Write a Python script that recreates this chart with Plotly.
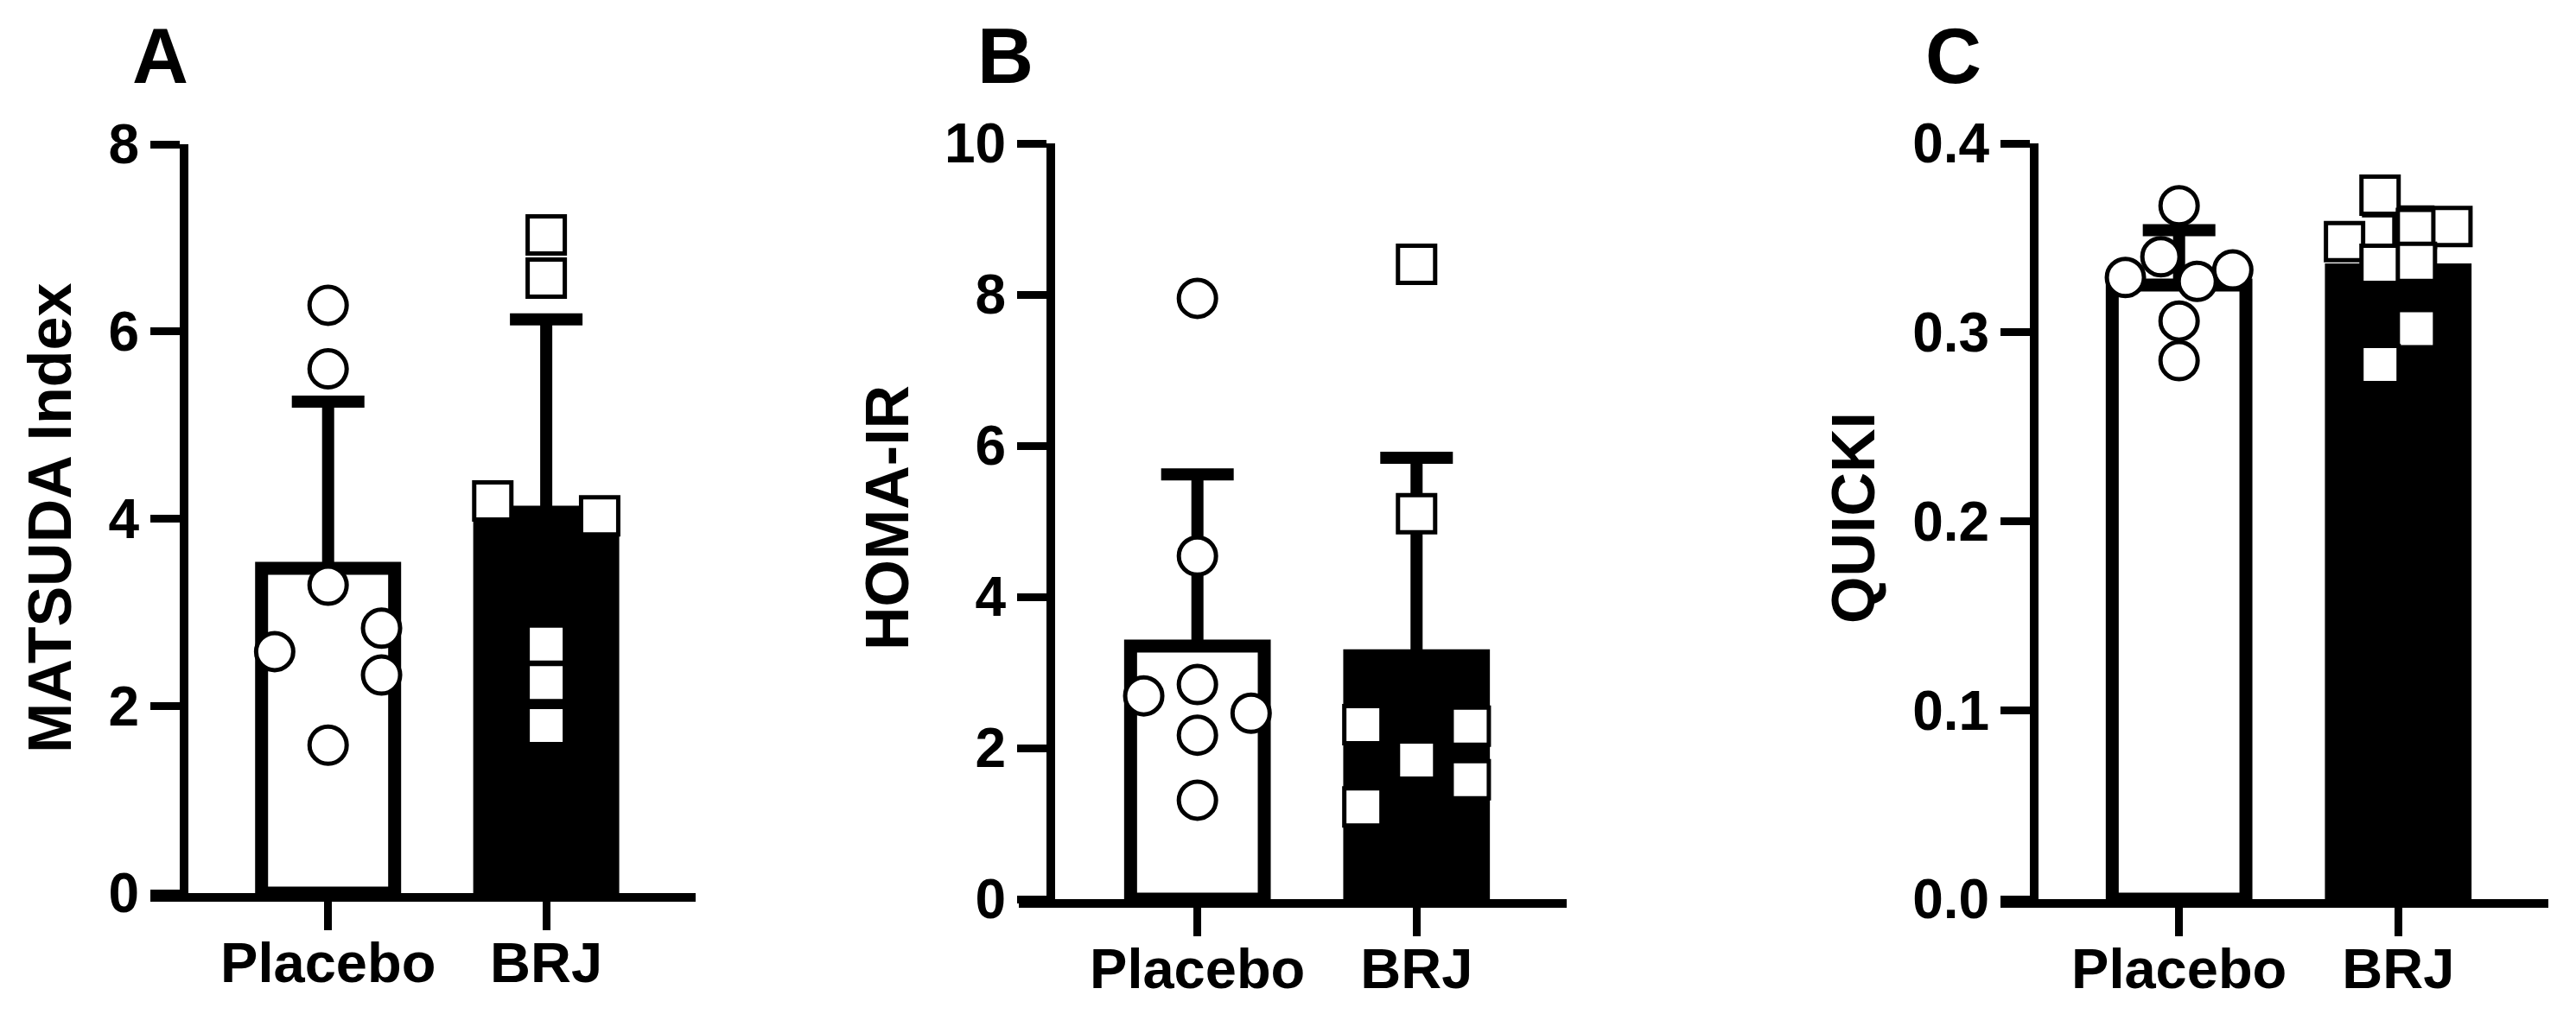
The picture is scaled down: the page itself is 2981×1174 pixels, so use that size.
import plotly.graph_objects as go

W, H = 2981, 1174

groups = ["Placebo", "BRJ"]

# Panel A: MATSUDA Index
a_means = [3.47, 4.07]
a_sd = [1.78, 2.06]
a_placebo = [6.28, 5.60, 3.29, 2.58, 2.83, 2.33, 1.58]
a_brj = [7.03, 6.57, 4.19, 4.03, 2.66, 2.25, 1.79]
a_ticks = [0, 2, 4, 6, 8]

# Panel B: HOMA-IR
b_means = [3.35, 3.22]
b_sd = [2.27, 2.62]
b_placebo = [7.95, 4.54, 2.84, 2.69, 2.46, 2.17, 1.31]
b_brj = [8.40, 5.10, 2.31, 2.29, 1.84, 1.58, 1.22]
b_ticks = [0, 2, 4, 6, 8, 10]

# Panel C: QUICKI
c_means = [0.325, 0.333]
c_sd = [0.029, 0.031]
c_placebo = [0.367, 0.340, 0.329, 0.327, 0.333, 0.306, 0.285]
c_brj = [0.3726, 0.348, 0.355, 0.356, 0.336, 0.337, 0.302, 0.283]
c_ticks = [0.0, 0.1, 0.2, 0.3, 0.4]

# horizontal scatter offsets (layout only)
a_jit_p = [0, 0, 0, -0.245, 0.245, 0.245, 0]
a_jit_b = [0, 0, -0.245, 0.245, 0, 0, 0]
b_jit_p = [0, 0, 0, -0.245, 0.245, 0, 0]
b_jit_b = [0, 0, -0.245, 0.245, 0, 0.245, -0.245]
c_jit_p = [0, -0.083, -0.245, 0.083, 0.245, 0, 0]
c_jit_b = [-0.083, -0.245, 0.083, 0.245, -0.083, 0.083, 0.083, -0.083]

FONT = "Arial, Liberation Sans, sans-serif"

panels = [
    dict(letter="A", title="MATSUDA Index", means=a_means, sd=a_sd, p=a_placebo, b=a_brj,
         jp=a_jit_p, jb=a_jit_b, ticks=a_ticks, fmt=None, rng=[0, 8],
         xdom=(174, 805), yaxis_x=213, y0=1034, ytop=167, title_x=58, letter_x=185),
    dict(letter="B", title="HOMA-IR", means=b_means, sd=b_sd, p=b_placebo, b=b_brj,
         jp=b_jit_p, jb=b_jit_b, ticks=b_ticks, fmt=None, rng=[0, 10],
         xdom=(1179, 1813), yaxis_x=1216, y0=1041, ytop=166, title_x=1027, letter_x=1163),
    dict(letter="C", title="QUICKI", means=c_means, sd=c_sd, p=c_placebo, b=c_brj,
         jp=c_jit_p, jb=c_jit_b, ticks=c_ticks, fmt="0.1f", rng=[0, 0.4],
         xdom=(2315, 2949), yaxis_x=2354, y0=1041, ytop=166, title_x=2145, letter_x=2260),
]

fig = go.Figure()
layout = dict(width=W, height=H, margin=dict(l=0, r=0, t=0, b=0, autoexpand=False),
              paper_bgcolor="white", plot_bgcolor="white", showlegend=False,
              font=dict(family=FONT, color="black"))
annotations = []

for i, pn in enumerate(panels, start=1):
    xa = "x" if i == 1 else f"x{i}"
    ya = "y" if i == 1 else f"y{i}"
    fig.add_trace(go.Bar(
        x=[0, 1], y=pn["means"], xaxis=xa, yaxis=ya, width=0.61,
        marker=dict(color=["white", "black"], line=dict(color="black", width=15)),
        error_y=dict(type="data", symmetric=False, array=pn["sd"], arrayminus=[0, 0],
                     thickness=14, width=42, color="black"),
        hoverinfo="skip"))
    fig.add_trace(go.Scatter(
        x=[0 + j for j in pn["jp"]], y=pn["p"], xaxis=xa, yaxis=ya, mode="markers",
        marker=dict(symbol="circle", size=43, color="white", line=dict(color="black", width=5)),
        cliponaxis=False, hoverinfo="skip"))
    fig.add_trace(go.Scatter(
        x=[1 + j for j in pn["jb"]], y=pn["b"], xaxis=xa, yaxis=ya, mode="markers",
        marker=dict(symbol="square", size=43, color="white", line=dict(color="black", width=5)),
        cliponaxis=False, hoverinfo="skip"))

    x0, x1 = pn["xdom"]
    ticktext = [format(t, pn["fmt"]) if pn["fmt"] else str(t) for t in pn["ticks"]]
    layout["xaxis" if i == 1 else f"xaxis{i}"] = dict(
        domain=[x0 / W, x1 / W], range=[-0.815, 1.685], anchor=ya, automargin=False,
        tickvals=[0, 1], ticktext=groups, ticks="outside", ticklen=33, tickwidth=9,
        tickcolor="black", showline=True, linewidth=10, linecolor="black",
        showgrid=False, zeroline=False, ticklabelstandoff=-18,
        tickfont=dict(family=FONT, size=65, color="black", weight="bold"))
    layout["yaxis" if i == 1 else f"yaxis{i}"] = dict(
        domain=[1 - pn["y0"] / H, 1 - pn["ytop"] / H], range=pn["rng"], automargin=False,
        anchor="free", position=pn["yaxis_x"] / W,
        tickvals=pn["ticks"], ticktext=ticktext, ticks="outside", ticklen=34, tickwidth=9,
        tickcolor="black", showline=True, linewidth=10, linecolor="black",
        showgrid=False, zeroline=False,
        tickfont=dict(family=FONT, size=64, color="black", weight="bold"))
    annotations.append(dict(
        text=pn["title"], x=pn["title_x"] / W, y=1 - 600 / H, xref="paper", yref="paper",
        xanchor="center", yanchor="middle", textangle=-90, showarrow=False,
        font=dict(family=FONT, size=70, color="black", weight="bold")))
    annotations.append(dict(
        text=pn["letter"], x=pn["letter_x"] / W, y=1 - 65 / H, xref="paper", yref="paper",
        xanchor="center", yanchor="middle", showarrow=False,
        font=dict(family=FONT, size=90, color="black", weight="bold")))

layout["annotations"] = annotations
fig.update_layout(**layout)
fig.write_html("out.html", config={"displayModeBar": False},
               post_script="document.body.style.margin='0';")
